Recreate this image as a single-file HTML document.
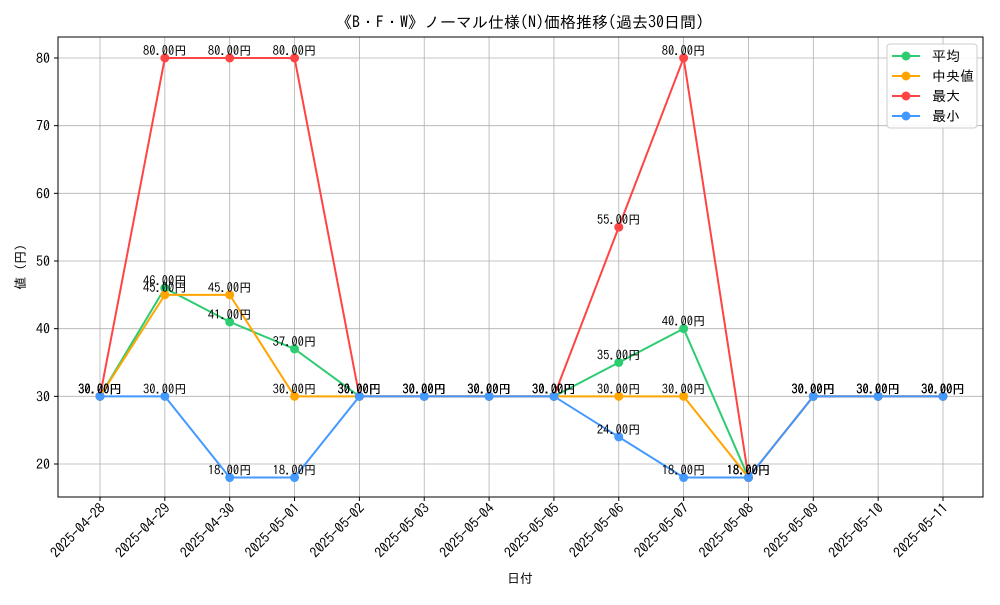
<!DOCTYPE html>
<html><head><meta charset="utf-8"><style>
body{margin:0;background:#fff}
svg text{font-family:"IPAGothic","Liberation Sans","Noto Sans CJK JP",sans-serif;fill:#000}
</style></head><body>
<svg id="c" width="1000" height="600"></svg>
<script>
const dates=["2025-04-28","2025-04-29","2025-04-30","2025-05-01","2025-05-02","2025-05-03","2025-05-04","2025-05-05","2025-05-06","2025-05-07","2025-05-08","2025-05-09","2025-05-10","2025-05-11"];
const avgVals=[30,46,41,37,30,30,30,30,35,40,18,30,30,30];
const medianVals=[30,45,45,30,30,30,30,30,30,30,18,30,30,30];
const maxVals=[30,80,80,80,30,30,30,30,55,80,18,30,30,30];
const minVals=[30,30,18,18,30,30,30,30,24,18,18,30,30,30];
const yTicks=[20,30,40,50,60,70,80];
const NS="http://www.w3.org/2000/svg";
const svg=document.getElementById('c');
const L=58,R=983,T=37,B=497;
const x=i=>100+i*(943-100)/(dates.length-1);
const y=v=>464-(v-20)*(464-58)/60;
function mk(tag,attrs,parent){const e=document.createElementNS(NS,tag);for(const k in attrs)e.setAttribute(k,attrs[k]);(parent||svg).appendChild(e);return e;}
dates.forEach((d,i)=>{const g=mk('line',{x1:x(i),x2:x(i),y1:T,y2:B,stroke:'#b0b0b0','stroke-width':0.8});


mk('line',{x1:x(i),x2:x(i),y1:B,y2:B+4,stroke:'#000'});
const t=mk('text',{x:0,y:0,'font-size':14,'text-anchor':'end',transform:`translate(${x(i)+6},${B+12}) rotate(-45)`});
t.textContent=d;

});
yTicks.forEach(v=>{const g=mk('line',{x1:L,x2:R,y1:y(v),y2:y(v),stroke:'#b0b0b0','stroke-width':0.8});


mk('line',{x1:L-4,x2:L,y1:y(v),y2:y(v),stroke:'#000'});
const t=mk('text',{x:L-8,y:y(v)+5,'font-size':14,'text-anchor':'end'});
t.textContent=v;

});
const fr=mk('rect',{x:L,y:T,width:R-L,height:B-T,fill:'none',stroke:'#000','stroke-width':1});


const series=[["avg",avgVals,"#2ecc71"],["median",medianVals,"#ffa500"],["max",maxVals,"#ff4444"],["min",minVals,"#4499ff"]];
series.forEach(([n,vals,col])=>{
const p=mk('polyline',{points:vals.map((v,i)=>x(i)+','+y(v)).join(' '),fill:'none',stroke:col,'stroke-width':2});


vals.forEach((v,i)=>{const c=mk('circle',{cx:x(i),cy:y(v),r:4.5,fill:col});

});
});
series.forEach(([n,vals])=>{vals.forEach((v,i)=>{const t=mk('text',{x:x(i),y:y(v)-3,'font-size':12.5,'text-anchor':'middle'});
t.textContent=v.toFixed(2)+'円';

});});
const title=mk('text',{x:520,y:28,'font-size':16,'text-anchor':'middle'});
title.textContent='《B・F・W》ノーマル仕様(N)価格推移(過去30日間)';


const xt=mk('text',{x:520,y:583,'font-size':13,'text-anchor':'middle'});
xt.textContent='日付';


const yt=mk('text',{x:0,y:0,'font-size':13,'text-anchor':'middle',transform:'translate(25,267) rotate(-90)'});
yt.textContent='値 (円)';


const lg=mk('g',{});


mk('rect',{x:887,y:44,width:90,height:84,rx:3,fill:'#fff',stroke:'#ccc','fill-opacity':0.9},lg);
const names=["平均"," 中央値","最大","最小"];
series.forEach(([n,vals,col],k)=>{const yy=56+k*20;
mk('line',{x1:892,x2:920,y1:yy,y2:yy,stroke:col,'stroke-width':2},lg);
mk('circle',{cx:906,cy:yy,r:4.5,fill:col},lg);
const t=mk('text',{x:932,y:yy+5,'font-size':14},lg);
t.textContent=names[k];

});
</script>
</body></html>
